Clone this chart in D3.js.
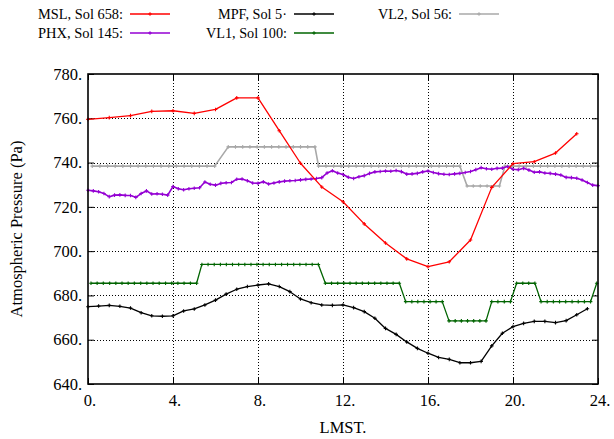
<!DOCTYPE html>
<html>
<head>
<meta charset="utf-8">
<script src="https://cdn.jsdelivr.net/npm/d3@7/dist/d3.min.js"></script>
</head>
<body style="margin:0">
<svg id="pressure" width="614" height="439" style="display:block"></svg>
<script>
// Diurnal surface pressure cycles at five Mars landing sites (LMST hours vs Pa)

// Curiosity (MSL), hourly
const mslHours = [0,1,2,3,4,5,6,7,8,9,10,11,12,13,14,15,16,17,18,19,20,21,22,23];
const mslPa = [759.5,760.3,761.2,763.1,763.4,762.2,764.0,769.2,769.2,754.4,739.7,729.0,722.3,712.3,703.7,696.5,693.0,695.2,705.0,728.8,739.5,740.4,744.3,753.0];

// Pathfinder (MPF), half-hourly
const mpfHours = [0,0.5,1,1.5,2,2.5,3,3.5,4,4.5,5,5.5,6,6.5,7,7.5,8,8.5,9,9.5,10,10.5,11,11.5,12,12.5,13,13.5,14,14.5,15,15.5,16,16.5,17,17.5,18,18.5,19,19.5,20,20.5,21,21.5,22,22.5,23,23.5];
const mpfPa = [674.9,675.2,675.5,675.1,674.3,672.2,670.8,670.6,670.8,673.0,673.9,675.7,677.9,680.6,682.8,684.0,684.7,685.2,684.0,681.7,678.4,676.7,675.7,675.5,675.7,674.5,672.7,669.7,665.1,662.4,659.0,656.1,653.9,652.0,651.1,649.6,649.6,650.2,657.2,662.9,665.9,667.4,668.3,668.3,667.7,668.6,671.3,674.0];

// Viking Lander 2
const vl2Hours = [0.2,0.56,0.92,1.28,1.64,2.0,2.36,2.72,3.08,3.44,3.8,4.16,4.52,4.88,5.24,5.6,5.96,
  6.6,6.94,7.28,7.62,7.96,8.3,8.64,8.98,9.32,9.66,10.0,10.34,10.68,
  10.85,11.2,11.56,11.91,12.27,12.62,12.98,13.33,13.68,14.04,14.39,14.75,15.1,15.45,15.81,16.16,16.52,16.87,17.2,17.5,
  17.84,18.13,18.46,18.78,19.09,19.36,
  19.62,19.95,20.29,20.62,20.96,21.29,21.63,21.97,22.3,22.64,22.97,23.31,23.65,23.98];
const vl2Pa = [738.4,738.4,738.4,738.4,738.4,738.4,738.4,738.4,738.4,738.4,738.4,738.4,738.4,738.4,738.4,738.4,738.4,
  747.1,747.1,747.1,747.1,747.1,747.1,747.1,747.1,747.1,747.1,747.1,747.1,747.1,
  738.4,738.4,738.4,738.4,738.4,738.4,738.4,738.4,738.4,738.4,738.4,738.4,738.4,738.4,738.4,738.4,738.4,738.4,738.4,738.4,
  729.4,729.4,729.4,729.4,729.4,729.4,
  738.4,738.4,738.4,738.4,738.4,738.4,738.4,738.4,738.4,738.4,738.4,738.4,738.4,738.4];

// Phoenix (PHX)
const phxHours = [0,0.25,0.5,0.75,1,1.25,1.5,1.75,2,2.25,2.5,2.75,3,3.25,3.5,3.75,4,4.25,4.5,4.75,5,5.25,5.5,5.75,6,6.25,6.5,6.75,7,7.25,7.5,7.75,8,8.25,8.5,8.75,9,9.25,9.5,9.75,10,10.25,10.5,10.75,11,11.25,11.5,11.75,12,12.25,12.5,12.75,13,13.25,13.5,13.75,14,14.25,14.5,14.75,15,15.25,15.5,15.75,16,16.25,16.5,16.75,17,17.25,17.5,17.75,18,18.25,18.5,18.75,19,19.25,19.5,19.75,20,20.25,20.5,20.75,21,21.25,21.5,21.75,22,22.25,22.5,22.75,23,23.25,23.5,23.75,24];
const phxPa = [727.5,727.2,726.8,726.0,724.6,725.3,725.4,725.2,725.1,724.3,726.0,727.2,725.8,725.9,725.7,725.3,729.2,728.2,727.7,728.2,728.4,728.6,731.2,730.2,729.8,730.6,730.9,731.0,732.5,732.6,731.8,730.8,730.6,731.3,730.3,730.8,731.3,731.6,731.8,731.9,732.2,732.4,732.6,732.8,733.2,735.3,736.3,735.3,734.6,733.4,732.8,733.6,734.1,735.1,735.8,736.0,736.2,736.1,736.4,735.9,734.8,734.9,735.1,735.8,736.2,735.5,735.0,734.7,734.6,734.9,735.1,735.5,736.0,736.8,737.7,737.2,737.0,737.4,737.5,738.2,737.0,736.8,737.4,736.6,735.6,735.8,735.3,735.1,734.8,734.4,733.3,733.2,732.9,732.1,731.0,729.8,729.6];

// Viking Lander 1
const vl1Hours = [0.14,0.43,0.72,1.02,1.31,1.6,1.89,2.18,2.48,2.77,3.06,3.35,3.65,3.94,4.23,4.52,4.82,5.11,
  5.36,5.65,5.94,6.23,6.51,6.8,7.09,7.38,7.67,7.95,8.24,8.53,8.82,9.11,9.39,9.68,9.97,10.26,10.55,10.84,
  11.17,11.46,11.75,12.04,12.33,12.62,12.91,13.2,13.49,13.78,14.07,14.36,14.65,
  14.95,15.24,15.52,15.81,16.1,16.38,16.67,
  16.99,17.28,17.57,17.86,18.15,18.44,18.73,
  19.0,19.29,19.59,19.88,
  20.17,20.46,20.74,21.03,
  21.32,21.61,21.9,22.19,22.48,22.78,23.07,23.36,23.65,
  23.94];
const vl1Pa = [685.5,685.5,685.5,685.5,685.5,685.5,685.5,685.5,685.5,685.5,685.5,685.5,685.5,685.5,685.5,685.5,685.5,685.5,
  694.0,694.0,694.0,694.0,694.0,694.0,694.0,694.0,694.0,694.0,694.0,694.0,694.0,694.0,694.0,694.0,694.0,694.0,694.0,694.0,
  685.5,685.5,685.5,685.5,685.5,685.5,685.5,685.5,685.5,685.5,685.5,685.5,685.5,
  677.2,677.2,677.2,677.2,677.2,677.2,677.2,
  668.5,668.5,668.5,668.5,668.5,668.5,668.5,
  677.2,677.2,677.2,677.2,
  685.5,685.5,685.5,685.5,
  677.2,677.2,677.2,677.2,677.2,677.2,677.2,677.2,677.2,
  685.5];

const xTicks = [0,4,8,12,16,20,24];
const yTicks = [640,660,680,700,720,740,760,780];

const series = [
  { name: "MSL, Sol 658:", hours: mslHours, pa: mslPa, color: "#ff0000", width: 1.3, row: 0, col: 0, textW: 85 },
  { name: "MPF, Sol 5·",   hours: mpfHours, pa: mpfPa, color: "#000000", width: 1.3, row: 0, col: 1, textW: 69 },
  { name: "VL2, Sol 56:",  hours: vl2Hours, pa: vl2Pa, color: "#a8a8a8", width: 1.6, row: 0, col: 2, textW: 74 },
  { name: "PHX, Sol 145:", hours: phxHours, pa: phxPa, color: "#9400d3", width: 1.6, row: 1, col: 0, textW: 85 },
  { name: "VL1, Sol 100:", hours: vl1Hours, pa: vl1Pa, color: "#006400", width: 1.3, row: 1, col: 1, textW: 81 }
];

const svg = d3.select("#pressure");
const plot = { left: 88, right: 598, top: 74, bottom: 384 };

const x = d3.scaleLinear().domain([0, 24]).range([plot.left, plot.right]);
const y = d3.scaleLinear().domain([640, 780]).range([plot.bottom, plot.top]);

// serif text label
function label(parent, px, py, str, anchor, size) {
  return parent.append("text")
    .attr("x", px).attr("y", py)
    .attr("text-anchor", anchor)
    .attr("font-size", size || 16)
    .style("font-family", "'Liberation Serif'")
    .attr("fill", "#000")
    .text(str);
}

// dotted grid
const grid = svg.append("g");
grid.selectAll("line.h").data(yTicks.slice(1, -1)).join("line")
  .attr("x1", plot.left).attr("x2", plot.right)
  .attr("y1", d => Math.round(y(d)) + 0.5).attr("y2", d => Math.round(y(d)) + 0.5)
  .attr("stroke", "#000").attr("stroke-width", 1).attr("stroke-dasharray", "1,2");
grid.selectAll("line.v").data(xTicks.slice(1, -1)).join("line")
  .attr("y1", plot.top).attr("y2", plot.bottom)
  .attr("x1", d => Math.round(x(d)) + 0.5).attr("x2", d => Math.round(x(d)) + 0.5)
  .attr("stroke", "#000").attr("stroke-width", 1).attr("stroke-dasharray", "1,2");

// inward ticks on all four sides
const axes = [
  [d3.axisLeft(y).tickValues(yTicks), `translate(${plot.left},0)`],
  [d3.axisRight(y).tickValues(yTicks), `translate(${plot.right},0)`],
  [d3.axisBottom(x).tickValues(xTicks), `translate(0,${plot.bottom})`],
  [d3.axisTop(x).tickValues(xTicks), `translate(0,${plot.top})`]
];
axes.forEach(([ax, tr]) => {
  const g = svg.append("g").attr("transform", tr).call(ax.tickSize(-6).tickFormat(""));
  g.select(".domain").remove();
  g.selectAll(".tick line").attr("stroke", "#000").attr("stroke-width", 1);
  g.selectAll(".tick text").remove();
});

// tick labels
const yLab = svg.append("g");
yTicks.forEach(v => label(yLab, plot.left - 6, y(v), v + ".", "end", 16.5).attr("dy", "0.35em"));
const xLab = svg.append("g");
xTicks.forEach(v => label(xLab, x(v) + 2, 406, v + ".", "middle", 16.5));

// data lines and + markers
const line = d3.line().x(d => x(d[0])).y(d => y(d[1]));
const drawOrder = [2, 3, 4, 1, 0];
drawOrder.forEach(i => {
  const s = series[i];
  const pts = s.hours.map((h, k) => [h, s.pa[k]]);
  const g = svg.append("g");
  g.append("path").datum(pts).attr("d", line)
    .attr("fill", "none").attr("stroke", s.color).attr("stroke-width", s.width)
    .attr("stroke-linejoin", "round");
  g.selectAll("path.m").data(pts).join("path")
    .attr("d", d => { const px = x(d[0]), py = y(d[1]), r = 1.8;
      return `M${px - r},${py}H${px + r}M${px},${py - r}V${py + r}`; })
    .attr("stroke", s.color).attr("stroke-width", 1.1);
});

// frame
svg.append("rect")
  .attr("x", plot.left).attr("y", plot.top)
  .attr("width", plot.right - plot.left).attr("height", plot.bottom - plot.top)
  .attr("fill", "none").attr("stroke", "#000").attr("stroke-width", 1.6);

// axis titles
label(svg, (plot.left + plot.right) / 2, 433, "LMST.", "middle", 16.5);
label(svg, 0, 0, "Atmospheric Pressure (Pa)", "middle", 16.5)
  .attr("transform", `translate(22,${(plot.top + plot.bottom) / 2}) rotate(-90)`);

// legend: right-aligned names followed by a line sample with its marker
const legendText = [123, 287, 452];
const legendRow = [14, 33];
series.forEach(s => {
  const tx = legendText[s.col], ty = legendRow[s.row];
  const g = svg.append("g");
  label(g, tx, ty, s.name, "end", 15.5).attr("dy", "0.35em")
    .attr("textLength", s.textW).attr("lengthAdjust", "spacingAndGlyphs");
  g.append("line").attr("x1", tx + 7).attr("x2", tx + 47).attr("y1", ty).attr("y2", ty)
    .attr("stroke", s.color).attr("stroke-width", s.width);
  const mx = tx + 27, r = 1.8;
  g.append("path").attr("d", `M${mx - r},${ty}H${mx + r}M${mx},${ty - r}V${ty + r}`)
    .attr("stroke", s.color).attr("stroke-width", 1.1);
});
</script>
</body>
</html>
